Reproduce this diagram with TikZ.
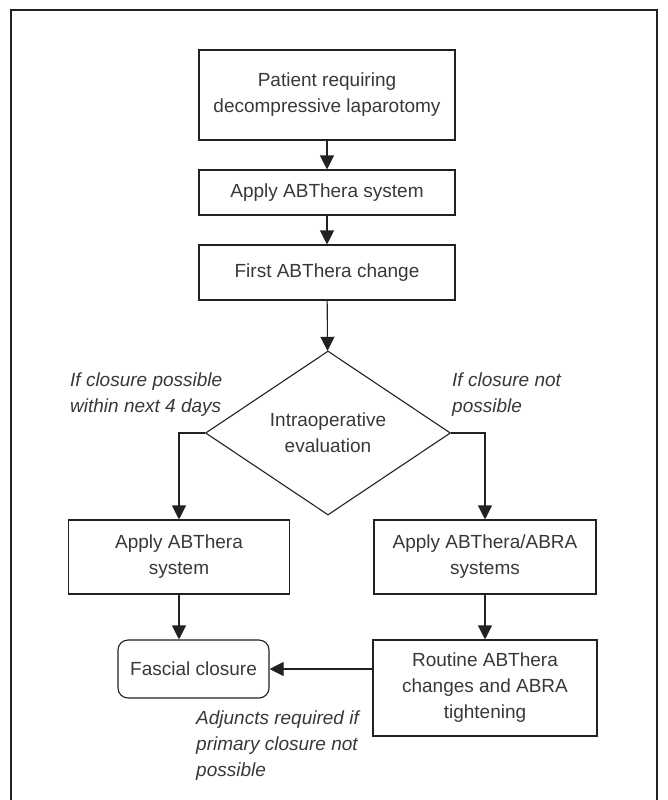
\documentclass[tikz,border=0pt]{standalone}
\usepackage{fontspec}
\setmainfont{Liberation Sans}
\usepackage{xcolor}
\usepackage{tikz}
\usetikzlibrary{arrows.meta,shapes}
\definecolor{lineC}{rgb}{0.13,0.13,0.13}
\definecolor{textC}{rgb}{0.22,0.22,0.22}

\tikzset{
  procBox/.style={draw=lineC,line width=1.1pt,text=textC,align=center,inner sep=0pt,
    font=\fontsize{19}{26}\selectfont},
  endBox/.style={procBox,rounded corners=10pt},
  decisionNode/.style={procBox,shape=diamond,minimum width=245pt,minimum height=164pt},
  flowArrow/.style={draw=lineC,line width=1.1pt,-{Triangle[width=14pt,length=14pt]}},
  noteText/.style={text=textC,align=left,inner sep=0pt,anchor=west,
    font=\fontsize{19}{26}\selectfont\itshape}
}

\begin{document}
\begin{tikzpicture}[x=1pt,y=-1pt]
        \useasboundingbox (0,0) rectangle (667,800);
        % outer frame, open at the bottom
        \draw[lineC,line width=1.2pt] (11,900) -- (11,10) -- (657,10) -- (657,900);
        % main column
        \node[procBox,minimum width=256pt,minimum height=90pt] (patient) at (327,95) {Patient requiring\\decompressive laparotomy};
        \node[procBox,minimum width=256pt,minimum height=45pt] (apply) at (327,192.5) {Apply ABThera system};
        \node[procBox,minimum width=256pt,minimum height=55pt] (first) at (327,272.5) {First ABThera change};
        \node[decisionNode] (eval) at (328,433) {Intraoperative\\evaluation};
        % two branches
        \node[procBox,minimum width=221pt,minimum height=74pt] (abt) at (179,557) {Apply ABThera\\system};
        \node[procBox,minimum width=222pt,minimum height=74pt] (abra) at (485,557) {Apply ABThera/ABRA\\systems};
        \node[endBox,minimum width=151pt,minimum height=58pt] (fascial) at (193.5,669) {Fascial closure};
        \node[procBox,minimum width=224pt,minimum height=96pt] (routine) at (485,688) {Routine ABThera\\changes and ABRA\\tightening};
        % notes
        \node[noteText] (noteLeft) at (70,395) {If closure possible\\within next 4 days};
        \node[noteText] (noteRight) at (452,395) {If closure not\\possible};
        \node[noteText] (noteAdjunct) at (196,746) {Adjuncts required if\\primary closure not\\possible};
        % connectors
        \draw[flowArrow] (patient) -- (apply);
        \draw[flowArrow] (apply) -- (first);
        \draw[flowArrow] (first) -- (eval);
        \draw[flowArrow] (eval.west) -| (abt.north);
        \draw[flowArrow] (eval.east) -| (abra.north);
        \draw[flowArrow] (abt.south) -- (abt.south |- fascial.north);
        \draw[flowArrow] (abra) -- (routine);
        \draw[flowArrow] (routine.west |- fascial.east) -- (fascial.east);
\end{tikzpicture}
\end{document}
